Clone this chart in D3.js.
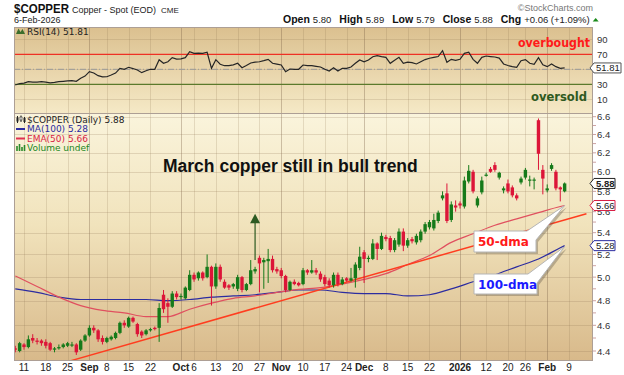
<!DOCTYPE html>
<html>
<head>
<meta charset="utf-8">
<script src="https://cdn.jsdelivr.net/npm/d3@7"></script>
<style>
body { margin: 0; background: #fff; }
svg { display: block; font-family: "Liberation Sans", Arial, sans-serif; }
</style>
</head>
<body>
<svg id="chart" width="624" height="375"></svg>
<script>
// ---- data ----
const firstDay = "2025-08-07"
const holidays = ["2025-09-01", "2025-11-27", "2025-12-25", "2026-01-01", "2026-01-19"]

// daily OHLC, Aug 7 2025 .. Feb 6 2026
const opens = [
  4.42,4.40,4.45,4.43,4.50,4.48,4.48,4.47,4.46,4.41,
  4.42,4.43,4.44,4.45,4.45,4.41,4.48,4.52,4.58,4.56,
  4.50,4.47,4.49,4.50,4.54,4.62,4.59,4.66,4.61,4.55,
  4.53,4.56,4.58,4.58,4.85,4.78,4.75,4.86,4.83,4.82,
  4.89,5.02,4.99,5.04,5.00,5.09,4.92,5.09,4.96,4.93,
  4.92,4.90,5.00,4.89,4.94,5.05,5.17,5.13,5.14,5.16,
  5.07,5.06,5.01,4.89,4.96,4.95,4.94,5.06,5.04,5.06,
  5.03,5.00,4.97,4.93,5.02,4.94,4.99,4.97,4.99,5.08,
  5.22,5.16,5.16,5.30,5.25,5.36,5.35,5.24,5.29,5.41,
  5.28,5.34,5.31,5.33,5.41,5.45,5.44,5.51,5.73,5.78,
  5.52,5.66,5.68,5.65,5.90,6.00,5.66,5.79,5.96,6.03,
  6.07,5.94,5.81,5.88,5.84,5.76,5.89,5.94,5.91,5.91,
  6.56,6.02,5.81,6.03,6.00,5.84,5.80]
const highs = [
  4.44,4.47,4.46,4.52,4.53,4.50,4.49,4.49,4.47,4.43,
  4.45,4.46,4.47,4.47,4.46,4.49,4.53,4.60,4.60,4.57,
  4.52,4.51,4.52,4.55,4.63,4.64,4.67,4.67,4.62,4.56,
  4.57,4.58,4.59,4.78,4.89,4.82,4.88,4.88,4.86,4.92,
  5.06,5.04,5.05,5.05,5.20,5.10,5.12,5.11,4.98,4.94,
  4.95,5.02,5.01,4.95,5.15,5.09,5.19,5.17,5.25,5.19,
  5.09,5.08,5.02,4.97,4.98,4.96,5.08,5.07,5.15,5.08,
  5.05,5.02,4.99,5.04,5.04,5.00,5.00,5.08,5.13,5.27,
  5.24,5.19,5.34,5.31,5.40,5.38,5.37,5.35,5.44,5.44,
  5.35,5.36,5.39,5.43,5.50,5.52,5.58,5.61,5.80,5.88,
  5.70,5.71,5.70,5.95,6.07,6.02,5.75,5.95,5.99,6.05,
  6.10,6.00,5.85,5.92,5.86,5.78,5.95,6.04,5.96,5.94,
  6.58,6.07,5.87,6.09,6.02,5.85,5.89]
const lows = [
  4.39,4.39,4.41,4.42,4.46,4.45,4.44,4.42,4.40,4.39,
  4.41,4.42,4.43,4.43,4.37,4.40,4.47,4.51,4.54,4.47,
  4.45,4.46,4.48,4.49,4.53,4.58,4.58,4.62,4.51,4.50,
  4.52,4.55,4.56,4.47,4.70,4.62,4.74,4.81,4.81,4.81,
  4.88,4.96,4.97,4.97,4.99,4.76,4.90,4.96,4.90,4.89,
  4.90,4.88,4.87,4.88,4.93,5.03,4.87,4.90,4.95,5.04,
  5.03,4.99,4.87,4.88,4.93,4.92,4.93,5.02,5.03,5.02,
  4.96,4.92,4.91,4.91,4.92,4.93,4.96,4.96,4.91,5.06,
  4.95,5.13,5.15,5.15,5.24,5.32,5.22,5.22,5.27,5.23,
  5.26,5.30,5.29,5.31,5.39,5.43,5.42,5.49,5.71,5.49,
  5.50,5.60,5.63,5.63,5.88,5.78,5.64,5.77,5.95,5.99,
  6.00,5.92,5.78,5.78,5.74,5.71,5.87,5.92,5.85,5.82,
  6.02,5.77,5.79,6.01,5.81,5.70,5.79]
const closes = [
  4.41,4.46,4.43,4.49,4.48,4.47,4.46,4.44,4.41,4.42,
  4.43,4.45,4.46,4.45,4.39,4.48,4.52,4.58,4.56,4.49,
  4.47,4.50,4.51,4.54,4.62,4.60,4.66,4.63,4.53,4.52,
  4.56,4.57,4.57,4.74,4.73,4.75,4.86,4.83,4.84,4.91,
  5.02,4.98,5.04,4.99,5.09,4.92,5.09,4.98,4.91,4.91,
  4.94,5.00,4.89,4.94,5.06,5.07,5.12,5.15,5.16,5.06,
  5.05,5.01,4.89,4.96,4.94,4.93,5.06,5.04,5.06,5.04,
  4.98,4.94,4.93,5.02,4.94,4.98,4.97,4.99,5.11,5.18,
  5.16,5.17,5.30,5.25,5.37,5.34,5.24,5.33,5.41,5.28,
  5.33,5.32,5.37,5.41,5.48,5.50,5.52,5.59,5.76,5.51,
  5.67,5.64,5.66,5.91,6.01,5.80,5.73,5.91,5.97,6.00,
  6.02,5.99,5.83,5.80,5.76,5.73,5.93,6.02,5.92,5.92,
  6.19,5.93,5.83,6.07,5.83,5.82,5.88]

// RSI(14), one value a day
const rsi14 = [
  29,31,31.5,33.5,33,33,33.5,33,32,32.5,
  33.5,34,34.5,34.8,34,38,41,46.8,45,41.5,
  40,40.1,42.4,45,51.3,50,52.7,51,49,45.5,
  48,50,50,62.8,58,60,65.5,63.7,64,65.5,
  73.5,71.3,71.5,71.3,72.7,51.3,62.8,56.7,54.8,55,
  56,58,52.1,55,58.4,59.5,60.1,61.5,63.3,58,
  57,55.7,46.8,50.4,50,50,55.7,55,54.8,54,
  53.1,50,47.7,52.1,47.7,51.3,51.3,53,58,62.4,
  60,62.4,66.8,68.1,66.8,66,58,62,66,58,
  59.5,58.8,57.1,60.1,63,64.7,66,67,74.8,59.3,
  63.3,62,63.3,71.3,72.7,63.3,58,66,67.7,67,
  66.4,65,57.1,55,53.5,52.5,61.5,63,58,56.7,
  65.5,56,53.5,57.1,53.5,51.3,51.81]

// moving averages, read every 5th trading day plus the last day
const maStep = 5
const ma100 = [4.90,4.87,4.83,4.81,4.81,4.81,4.81,4.80,4.81,4.83,4.84,4.85,4.87,4.89,
  4.89,4.87,4.86,4.86,4.84,4.85,4.90,4.96,5.02,5.09,5.16,5.26,5.28]
const ema50 = [5.01,4.92,4.83,4.76,4.72,4.70,4.67,4.67,4.73,4.78,4.82,4.84,4.87,4.895,
  4.91,4.94,4.98,5.03,5.11,5.19,5.31,5.39,5.47,5.53,5.59,5.65,5.66]

const tickDates = ["2025-08-11","2025-08-18","2025-08-25","2025-09-02","2025-09-08","2025-09-15","2025-09-22",
  "2025-10-01","2025-10-06","2025-10-13","2025-10-20","2025-10-27","2025-11-03","2025-11-10","2025-11-17",
  "2025-11-24","2025-12-01","2025-12-08","2025-12-15","2025-12-22","2026-01-02","2026-01-12","2026-01-20",
  "2026-01-26","2026-02-02","2026-02-09"]
const tickLabels = ["11","18","25","Sep","8","15","22","Oct","6","13","20","27","Nov","10","17","24",
  "Dec","8","15","22","2026","12","20","26","Feb","9"]
const monthLabels = ["Sep","Oct","Nov","Dec","2026","Feb"]

const priceTicks = [4.4,4.6,4.8,5.0,5.2,5.4,5.6,5.8,6.0,6.2,6.4,6.6]
const rsiTicks = [10,30,70,90]

const quoteNames = ["Open", "High", "Low", "Close", "Chg"]
const quoteValues = ["5.80", "5.89", "5.79", "5.88", "+0.06 (+1.09%)"]

const trendStart = ["2025-08-25", 4.32]
const trendEnd = ["2026-02-13", 5.58]
const arrowMark = ["2025-10-24", 5.15, 5.58]

// ---- layout ----
const L = 14, R = 593
const rsiTop = 27, rsiBot = 113, mainTop = 113, mainBot = 361

const fmt = d3.utcFormat("%Y-%m-%d")
const days = d3.utcDay.range(new Date(firstDay), new Date("2026-03-01"))
    .filter(d => d.getUTCDay() % 6 !== 0 && !holidays.includes(fmt(d)))
    .map(fmt)
const idx = s => days.indexOf(s)

const x = d3.scaleLinear().domain([idx("2025-08-11"), idx("2026-02-09")]).range([24, 569])
const y = d3.scaleLog().domain([4.4, 6.6]).range([351, 116.7])
const yr = d3.scaleLinear().domain([0, 100]).range([106.8, 31.8])

const n = Math.min(opens.length, highs.length, lows.length, closes.length)
const candles = d3.range(n).map(i => ({i: i, o: opens[i], h: highs[i], l: lows[i], c: closes[i]}))
const last = candles[n - 1]

const svg = d3.select("#chart")
const defs = svg.append("defs")

function grad(id, stops) {
    const g = defs.append("linearGradient").attr("id", id)
        .attr("x1", 0).attr("y1", 0).attr("x2", 0).attr("y2", 1)
    stops.forEach(s => g.append("stop").attr("offset", s[0]).attr("stop-color", s[1]))
}
grad("rsiBg", [[0, "#dbc08f"], [1, "#f5e9c6"]])
grad("mainBg", [[0, "#faf4dc"], [0.45, "#f1e3bc"], [1, "#d8b98a"]])

defs.append("clipPath").attr("id", "clipRsi").append("rect")
    .attr("x", L).attr("y", rsiTop).attr("width", R - L).attr("height", rsiBot - rsiTop)
defs.append("clipPath").attr("id", "clipMain").append("rect")
    .attr("x", L).attr("y", mainTop).attr("width", R - L).attr("height", mainBot - mainTop)

// panels
svg.append("rect").attr("x", L).attr("y", rsiTop).attr("width", R - L).attr("height", rsiBot - rsiTop)
    .attr("fill", "url(#rsiBg)")
svg.append("rect").attr("x", L).attr("y", mainTop).attr("width", R - L).attr("height", mainBot - mainTop)
    .attr("fill", "url(#mainBg)")

// vertical grid
const grid = svg.append("g")
tickDates.forEach((d, k) => {
    const xx = Math.round(x(idx(d))) + 0.5
    const strong = monthLabels.includes(tickLabels[k])
    grid.append("line").attr("x1", xx).attr("x2", xx).attr("y1", rsiTop).attr("y2", mainBot)
        .attr("stroke", strong ? "rgba(120,95,70,0.35)" : "rgba(140,115,80,0.2)")
})
// horizontal grid
priceTicks.forEach(p => {
    const yy = Math.round(y(p)) + 0.5
    grid.append("line").attr("x1", L).attr("x2", R).attr("y1", yy).attr("y2", yy)
        .attr("stroke", "rgba(140,115,80,0.22)")
})
rsiTicks.concat([50]).forEach(v => {
    const yy = Math.round(yr(v)) + 0.5
    grid.append("line").attr("x1", L).attr("x2", R).attr("y1", yy).attr("y2", yy)
        .attr("stroke", "rgba(140,115,80,0.2)")
})

// ---- RSI panel ----
const rsiG = svg.append("g").attr("clip-path", "url(#clipRsi)")
rsiG.append("line").attr("x1", L).attr("x2", R).attr("y1", yr(70)).attr("y2", yr(70))
    .attr("stroke", "#ee3124").attr("stroke-width", 1.2)
rsiG.append("line").attr("x1", L).attr("x2", R).attr("y1", yr(30)).attr("y2", yr(30))
    .attr("stroke", "#5b7a2c").attr("stroke-width", 1.2)
rsiG.append("line").attr("x1", L).attr("x2", R).attr("y1", yr(50)).attr("y2", yr(50))
    .attr("stroke", "#999").attr("stroke-dasharray", "6,2,1,2")
rsiG.append("path")
    .datum(rsi14.slice(0, n))
    .attr("fill", "none").attr("stroke", "#262626").attr("stroke-width", 1.2)
    .attr("d", d3.line().x((d, i) => x(i)).y(d => yr(d)))

svg.append("text").attr("x", 518).attr("y", 47).text("overbought")
    .attr("fill", "#ff1a1a").attr("font-family", "DejaVu Sans").attr("font-weight", "bold").attr("font-size", 11.5)
    .attr("textLength", 72).attr("lengthAdjust", "spacingAndGlyphs")
svg.append("text").attr("x", 531).attr("y", 101).text("oversold")
    .attr("fill", "#2f5a1f").attr("font-family", "DejaVu Sans").attr("font-weight", "bold").attr("font-size", 11.5)
    .attr("textLength", 56).attr("lengthAdjust", "spacingAndGlyphs")

// RSI legend
svg.append("path").attr("d", "M16,34 L18.5,28.5 L20.5,32 L22.5,29 L25,34 Z").attr("fill", "#3c6e2c")
svg.append("text").attr("x", 27).attr("y", 34.5).text("RSI(14) 51.81")
    .attr("font-family", "DejaVu Sans").attr("font-size", 9).attr("fill", "#222")

// ---- main panel ----
const mG = svg.append("g").attr("clip-path", "url(#clipMain)")

const avgLine = d3.line().curve(d3.curveMonotoneX)
    .x((d, k) => x(Math.min(k * maStep, n - 1))).y(d => y(d))
mG.append("path").datum(ma100).attr("fill", "none").attr("stroke", "#2c2ca0").attr("stroke-width", 1.2)
    .attr("d", avgLine)
mG.append("path").datum(ema50).attr("fill", "none").attr("stroke", "#e0505f").attr("stroke-width", 1.2)
    .attr("d", avgLine)
mG.append("line")
    .attr("x1", x(idx(trendStart[0]))).attr("y1", y(trendStart[1]))
    .attr("x2", x(idx(trendEnd[0]))).attr("y2", y(trendEnd[1]))
    .attr("stroke", "#ff3d1f").attr("stroke-width", 1.5)

const up = "#167a1a", down = "#dc1538"
const colorOf = d => d.c >= d.o ? up : down
mG.selectAll("line.wick").data(candles).join("line").attr("class", "wick")
    .attr("x1", d => x(d.i)).attr("x2", d => x(d.i))
    .attr("y1", d => y(d.h)).attr("y2", d => y(d.l))
    .attr("stroke", colorOf).attr("stroke-width", 1)
mG.selectAll("rect.body").data(candles).join("rect").attr("class", "body")
    .attr("x", d => x(d.i) - 1.7).attr("width", 3.4)
    .attr("y", d => y(Math.max(d.o, d.c)))
    .attr("height", d => Math.max(1.2, Math.abs(y(d.o) - y(d.c))))
    .attr("fill", colorOf)

// up arrow annotation
const ax = x(idx(arrowMark[0]))
const aBase = y(arrowMark[1]), aTip = y(arrowMark[2])
mG.append("line").attr("x1", ax).attr("x2", ax).attr("y1", aBase).attr("y2", aTip + 8)
    .attr("stroke", "#2d5a22").attr("stroke-width", 1.2)
mG.append("path").attr("d", `M${ax},${aTip} L${ax + 5},${aTip + 9.5} L${ax - 5},${aTip + 9.5} Z`)
    .attr("fill", "#2d5a22")

svg.append("text").attr("x", 163).attr("y", 171.5).text("March copper still in bull trend")
    .attr("font-weight", "bold").attr("font-size", 17.5).attr("fill", "#111")

// callouts
function callout(top, bottom, right, tipY, label, color) {
    const tipX = x(last.i)
    const p = `M474,${top} L${right - 9},${top} L${tipX},${tipY} L${right},${top + 9} L${right},${bottom} L474,${bottom} Z`
    svg.append("path").attr("d", p).attr("transform", "translate(2,2)").attr("fill", "rgba(90,80,70,0.35)")
    svg.append("path").attr("d", p).attr("fill", "#fff").attr("stroke", "#b5b5b5").attr("stroke-width", 1)
    svg.append("text").attr("x", 478).attr("y", (top + bottom) / 2 + 4.5).text(label)
        .attr("font-family", "DejaVu Sans").attr("font-weight", "bold").attr("font-size", 12).attr("fill", color)
}
callout(231, 252, 536, y(ema50[ema50.length - 1]), "50-dma", "#ff1a1a")
callout(274, 294, 537, y(ma100[ma100.length - 1]) + 1, "100-dma", "#1a1aff")

// main legend
const lg = svg.append("g").attr("font-family", "DejaVu Sans").attr("font-size", 9)
lg.append("path").attr("d", "M17.5,116 V123 M21,115.5 V122 M24.5,117 V123").attr("stroke", "#222").attr("stroke-width", 1)
lg.append("rect").attr("x", 16.5).attr("y", 117.5).attr("width", 2).attr("height", 4).attr("fill", "#222")
lg.append("rect").attr("x", 20).attr("y", 117).attr("width", 2).attr("height", 3).attr("fill", "#fff").attr("stroke", "#222").attr("stroke-width", 0.6)
lg.append("rect").attr("x", 23.5).attr("y", 118).attr("width", 2).attr("height", 4).attr("fill", "#222")
lg.append("text").attr("x", 27).attr("y", 122.5).text("$COPPER (Daily) 5.88").attr("fill", "#222")
lg.append("line").attr("x1", 16).attr("x2", 25).attr("y1", 129).attr("y2", 129).attr("stroke", "#2c2ca0").attr("stroke-width", 2)
lg.append("text").attr("x", 27).attr("y", 132).text("MA(100) 5.28").attr("fill", "#2c2ca0")
lg.append("line").attr("x1", 16).attr("x2", 25).attr("y1", 138.5).attr("y2", 138.5).attr("stroke", "#e03050").attr("stroke-width", 2)
lg.append("text").attr("x", 27).attr("y", 141.5).text("EMA(50) 5.66").attr("fill", "#d81e44")
lg.append("path").attr("d", "M17,151 V146 M19.5,151 V144 M22,151 V147 M24.5,151 V145").attr("stroke", "#2a8a2a").attr("stroke-width", 1.6)
lg.append("text").attr("x", 27).attr("y", 151).text("Volume undef").attr("fill", "#228822")

// panel frames
svg.append("rect").attr("x", L + 0.5).attr("y", rsiTop + 0.5).attr("width", R - L - 1).attr("height", mainBot - rsiTop - 1)
    .attr("fill", "none").attr("stroke", "#ad9f95")
svg.append("line").attr("x1", L).attr("x2", R).attr("y1", rsiBot + 0.5).attr("y2", rsiBot + 0.5).attr("stroke", "#ad9f95")

// ---- right axes ----
const axG = svg.append("g").attr("font-size", 9.5).attr("fill", "#333")
priceTicks.forEach(p => {
    axG.append("text").attr("x", 597).attr("y", y(p) + 3.5).text(d3.format(".1f")(p))
})
d3.range(4.4, 6.65, 0.1).forEach(p => {
    axG.append("line").attr("x1", R).attr("x2", R + 3).attr("y1", y(p)).attr("y2", y(p))
        .attr("stroke", "#c08a8a").attr("stroke-width", 0.8)
})
rsiTicks.forEach(v => {
    axG.append("text").attr("x", 597).attr("y", yr(v) + 3.5).text(v)
})

function tag(yy, label, color, x0, w, bold) {
    const h = 5
    svg.append("path").attr("d", `M${x0 - 4},${yy} L${x0},${yy - h} L${x0 + w},${yy - h} L${x0 + w},${yy + h} L${x0},${yy + h} Z`)
        .attr("fill", "#fff").attr("stroke", color).attr("stroke-width", 1)
    svg.append("text").attr("x", x0 + 2).attr("y", yy + 3.3).text(label)
        .attr("font-size", 9.5).attr("fill", "#222").attr("font-weight", bold ? "bold" : "normal")
}
tag(yr(rsi14[n - 1]), "51.81", "#555", 594, 27, false)
tag(y(ema50[ema50.length - 1]), "5.66", "#d81e44", 594, 21, false)
tag(y(ma100[ma100.length - 1]), "5.28", "#2c2ca0", 594, 21, false)
tag(y(last.c), "5.88", "#222", 594, 21, true)

// ---- x axis ----
const xG = svg.append("g").attr("font-size", 10).attr("fill", "#222").attr("text-anchor", "middle")
tickDates.forEach((d, k) => {
    xG.append("text").attr("x", x(idx(d))).attr("y", 371).text(tickLabels[k])
        .attr("font-weight", monthLabels.includes(tickLabels[k]) ? "bold" : "normal")
})

// ---- header ----
svg.append("text").attr("x", 14).attr("y", 13).text("$COPPER")
    .attr("font-weight", "bold").attr("font-size", 12).attr("fill", "#111")
    .attr("textLength", 55).attr("lengthAdjust", "spacingAndGlyphs")
svg.append("text").attr("x", 72).attr("y", 13).text("Copper - Spot (EOD)")
    .attr("font-size", 9).attr("fill", "#222")
svg.append("text").attr("x", 161).attr("y", 13).text("CME")
    .attr("font-size", 8).attr("fill", "#222")
svg.append("text").attr("x", 14).attr("y", 23).text("6-Feb-2026")
    .attr("font-size", 9).attr("fill", "#222")
svg.append("text").attr("x", 593).attr("y", 10.5).text("\u00A9StockCharts.com")
    .attr("text-anchor", "end").attr("font-size", 9).attr("fill", "#777")

// quote line: bold name followed by value, laid out left to right
let qx = 283
quoteNames.forEach((name, k) => {
    const t1 = svg.append("text").attr("x", qx).attr("y", 23).text(name)
        .attr("font-weight", "bold").attr("font-size", 10.5).attr("fill", "#111")
    qx += t1.node().getComputedTextLength() + 3
    const t2 = svg.append("text").attr("x", qx).attr("y", 23).text(quoteValues[k])
        .attr("font-size", 9.5).attr("fill", "#222")
    qx += t2.node().getComputedTextLength() + 8
})
svg.append("path").attr("d", `M${qx - 5},21.5 L${qx - 2},18 L${qx + 1},21.5 Z`).attr("fill", "#1a8a1a")
</script>
</body>
</html>
